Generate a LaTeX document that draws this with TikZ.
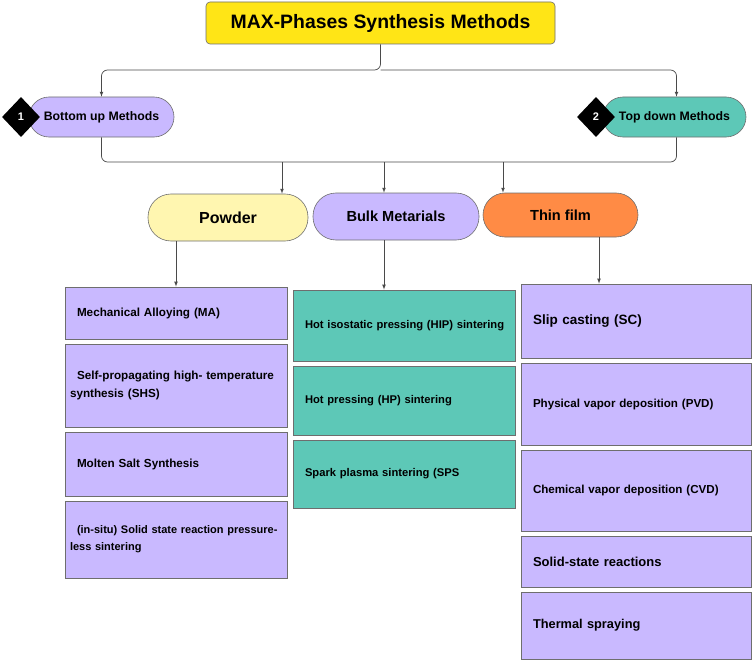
\documentclass[tikz,border=0pt]{standalone}
\usepackage{fontspec}
\setmainfont{Liberation Sans}
\usepackage{tikz}
\tikzset{>=latex}
\usetikzlibrary{arrows,shapes.geometric,positioning}
\definecolor{titleyellow}{HTML}{FFE516}
\definecolor{lav}{HTML}{C9B9FF}
\definecolor{tealbox}{HTML}{5DC8B7}
\definecolor{paleyellow}{HTML}{FFF6B0}
\definecolor{filmorange}{HTML}{FF8B45}
\definecolor{edgegray}{HTML}{6E6E6E}
\definecolor{linegray}{HTML}{4A4A4A}
\tikzset{
  pill/.style={draw=edgegray, line width=0.6pt, rounded corners=#1, inner sep=0pt},
  pill/.default=20pt,
  item/.style={draw=edgegray, line width=0.8pt, inner xsep=12pt, inner ysep=0pt, align=left,
    font={\bfseries\fontsize{11.7}{18}\selectfont}},
  badge/.style={diamond, fill=black, minimum width=38pt, minimum height=40pt, inner sep=0pt,
    text=white, font={\bfseries\fontsize{11}{13}\selectfont}},
  link/.style={draw=linegray, line width=0.7pt, rounded corners=6pt}
}
\begin{document}
\begin{tikzpicture}[x=1pt,y=-1pt]
            \useasboundingbox (0,0) rectangle (753,661);

            \node[pill=4pt, fill=titleyellow, minimum width=349pt, minimum height=42pt,
                  font={\bfseries\fontsize{19.4}{21}\selectfont}] (title) at (380.5,23) {MAX-Phases Synthesis Methods};

            \node[pill, fill=lav, minimum width=145pt, minimum height=40pt,
                  font={\bfseries\fontsize{12.3}{14}\selectfont}] (bottomup) at (101.5,117) {Bottom up Methods};
            \node[badge] (one) at (21,117) {1};
            \node[pill, fill=tealbox, minimum width=143pt, minimum height=40pt,
                  font={\bfseries\fontsize{12.3}{14}\selectfont}] (topdown) at (674.5,117) {Top down Methods};
            \node[badge] (two) at (596,117) {2};

            \node[pill=23pt, fill=paleyellow, minimum width=160pt, minimum height=47pt,
                  font={\bfseries\fontsize{16}{18}\selectfont}] (powder) at (228,217.5) {Powder};
            \node[pill=23pt, fill=lav, minimum width=166pt, minimum height=47pt,
                  font={\bfseries\fontsize{14.6}{17}\selectfont}] (bulk) at (396,216.5) {Bulk Metarials};
            \node[pill=22pt, fill=filmorange, minimum width=155pt, minimum height=44pt,
                  font={\bfseries\fontsize{14.6}{17}\selectfont}] (thin) at (560.5,215) {Thin film};

            \node[item, fill=lav, text width=198pt, minimum height=52pt] (ma) at (176,313) {Mechanical Alloying (MA)};
            \node[item, fill=lav, text width=198pt, minimum height=83pt] (shs) at (176,385.5)
                 {\mbox{Self-propagating high- temperature}\\\hspace*{-7pt}synthesis (SHS)};
            \node[item, fill=lav, text width=198pt, minimum height=64pt] (msalt) at (176,464) {Molten Salt Synthesis};
            \node[item, fill=lav, text width=198pt, minimum height=77pt,
                  font={\bfseries\fontsize{11}{17}\selectfont}] (insitu) at (176,539.5)
                 {\mbox{(in-situ) Solid state reaction pressure-}\\\hspace*{-7pt}less sintering};

            \node[item, fill=tealbox, text width=198pt, minimum height=71pt,
                  font={\bfseries\fontsize{11.2}{14}\selectfont}] (hip) at (404,325.5) {\mbox{Hot isostatic pressing (HIP) sintering}};
            \node[item, fill=tealbox, text width=198pt, minimum height=69pt,
                  font={\bfseries\fontsize{11.2}{14}\selectfont}] (hp) at (404,400.5) {Hot pressing (HP) sintering};
            \node[item, fill=tealbox, text width=198pt, minimum height=68pt,
                  font={\bfseries\fontsize{11.2}{14}\selectfont}] (sps) at (404,474) {Spark plasma sintering (SPS};

            \node[item, fill=lav, text width=206pt, minimum height=74pt,
                  font={\bfseries\fontsize{13.5}{16}\selectfont}] (sc) at (636,321) {Slip casting (SC)};
            \node[item, fill=lav, text width=206pt, minimum height=82pt,
                  font={\bfseries\fontsize{11.6}{14}\selectfont}] (pvd) at (636,404) {Physical vapor deposition (PVD)};
            \node[item, fill=lav, text width=206pt, minimum height=81pt,
                  font={\bfseries\fontsize{11.6}{14}\selectfont}] (cvd) at (636,490.5) {Chemical vapor deposition (CVD)};
            \node[item, fill=lav, text width=206pt, minimum height=51pt,
                  font={\bfseries\fontsize{13}{15}\selectfont}] (ssr) at (636,561.5) {Solid-state reactions};
            \node[item, fill=lav, text width=206pt, minimum height=67pt,
                  font={\bfseries\fontsize{12.8}{15}\selectfont}] (spray) at (636,625.5) {Thermal spraying};

            \coordinate (split) at (380.5,70);
            \draw[link,->] (title.south) -- (split) -| (bottomup.north);
            \draw[link,->] (split) -| ([xshift=2pt]topdown.north);

            \coordinate (merge) at (380.5,162);
            \coordinate (jpowder) at (282,162);
            \coordinate (jbulk) at (384,162);
            \coordinate (jthin) at (503,162);
            \draw[link] (bottomup.south) |- (merge) -| ([xshift=2pt]topdown.south);
            \draw[link,->] (jpowder) -- (jpowder |- powder.north);
            \draw[link,->] (jbulk) -- (jbulk |- bulk.north);
            \draw[link,->] (jthin) -- (jthin |- thin.north);

            \draw[link,->] (ma.north |- powder.south) -- (ma.north);
            \draw[link,->] ([xshift=-12pt]bulk.south) -- ([xshift=-12pt]bulk.south |- hip.north);
            \draw[link,->] ([xshift=38.5pt]thin.south) -- ([xshift=38.5pt]thin.south |- sc.north);
\end{tikzpicture}
\end{document}
